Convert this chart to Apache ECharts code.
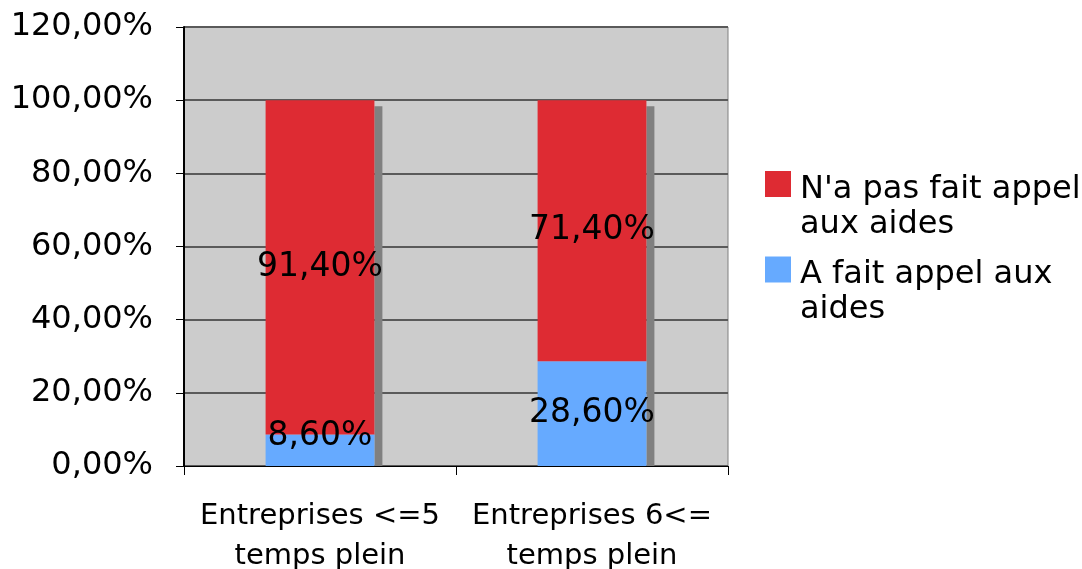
<!DOCTYPE html>
<html>
<head>
<meta charset="utf-8">
<script src="https://cdn.jsdelivr.net/npm/echarts@6/dist/echarts.min.js"></script>
<style>html,body{margin:0;padding:0;background:#fff;}#c{width:1082px;height:569px;}</style>
</head>
<body>
<div id="c"></div>
<script>
const categories = ['Entreprises <=5\ntemps plein', 'Entreprises 6<=\ntemps plein'];
const seriesNames = ["A fait appel aux aides", "N'a pas fait appel aux aides"];
const aideValues = [8.6, 28.6];
const nonAideValues = [91.4, 71.4];
const yTicks = [0, 20, 40, 60, 80, 100, 120];

const legendLines = {
  "N'a pas fait appel aux aides": ["N'a pas fait appel", "aux aides"],
  "A fait appel aux aides": ["A fait appel aux", "aides"]
};
const FONT = 'DejaVu Sans';
const fmt = v => v.toFixed(2).replace('.', ',') + '%';
const totals = categories.map((c, i) => aideValues[i] + nonAideValues[i]);

const chart = echarts.init(document.getElementById('c'));
chart.setOption({
  animation: false,
  textStyle: { fontFamily: FONT },
  grid: { left: 184, right: 354, top: 27, bottom: 103, outerBoundsMode: 'none', containLabel: false, show: true, backgroundColor: '#cccccc', borderColor: '#808080', borderWidth: 1 },
  legend: {
    orient: 'vertical', left: 765, top: 144, padding: 0,
    data: ["N'a pas fait appel aux aides", "A fait appel aux aides"],
    itemWidth: 26, itemHeight: 26, itemGap: -11,
    icon: 'rect',
    formatter: n => '{e| }\n' + legendLines[n].map(l => '{t|' + l + '}').join('\n'),
    textStyle: {
      fontFamily: FONT, fontSize: 32, color: '#000',
      rich: {
        e: { fontSize: 10, lineHeight: 46 },
        t: { fontFamily: FONT, fontSize: 32, color: '#000', lineHeight: 35, padding: [0, 0, 0, 4] }
      }
    }
  },
  xAxis: {
    type: 'category', data: categories,
    axisLine: { lineStyle: { color: '#000', width: 1 } },
    axisTick: { show: true, length: 9, lineStyle: { color: '#000' } },
    axisLabel: { interval: 0, fontFamily: FONT, fontSize: 29, color: '#000', lineHeight: 40, margin: 30 }
  },
  yAxis: {
    type: 'value', min: 0, max: 120, interval: 20,
    axisLine: { show: true, lineStyle: { color: '#000', width: 2 } },
    axisTick: { show: true, length: 8, lineStyle: { color: '#000' } },
    axisLabel: { fontFamily: FONT, fontSize: 32, color: '#000', margin: 31, formatter: v => yTicks.includes(v) ? fmt(v) : '' },
    splitLine: { lineStyle: { color: '#5a5a5a', width: 2 } }
  },
  series: [
    {
      type: 'custom', z: 1, silent: true,
      data: totals.map((t, i) => [i, t]),
      renderItem: (params, api) => {
        const top = api.coord([api.value(0), api.value(1)]);
        const bot = api.coord([api.value(0), 0]);
        const bw = api.size([1, 0])[0] * 0.4;
        return { type: 'rect', shape: { x: top[0] + bw / 2, y: top[1] + 6, width: 8, height: bot[1] - top[1] - 6 }, style: { fill: '#808080' } };
      }
    },
    {
      name: seriesNames[0], type: 'bar', stack: 's', barWidth: '40%', z: 2,
      itemStyle: { color: '#66aaff' },
      label: { show: true, position: 'inside', fontFamily: FONT, fontSize: 33, color: '#000', formatter: p => fmt(p.value) },
      data: aideValues.map((v, i) => i === 0 ? { value: v, label: { offset: [0, -14] } } : v)
    },
    {
      name: seriesNames[1], type: 'bar', stack: 's', barWidth: '40%', z: 2,
      itemStyle: { color: '#de2b33' },
      label: { show: true, position: 'inside', fontFamily: FONT, fontSize: 33, color: '#000', formatter: p => fmt(p.value) },
      data: nonAideValues
    }
  ]
});
</script>
</body>
</html>
